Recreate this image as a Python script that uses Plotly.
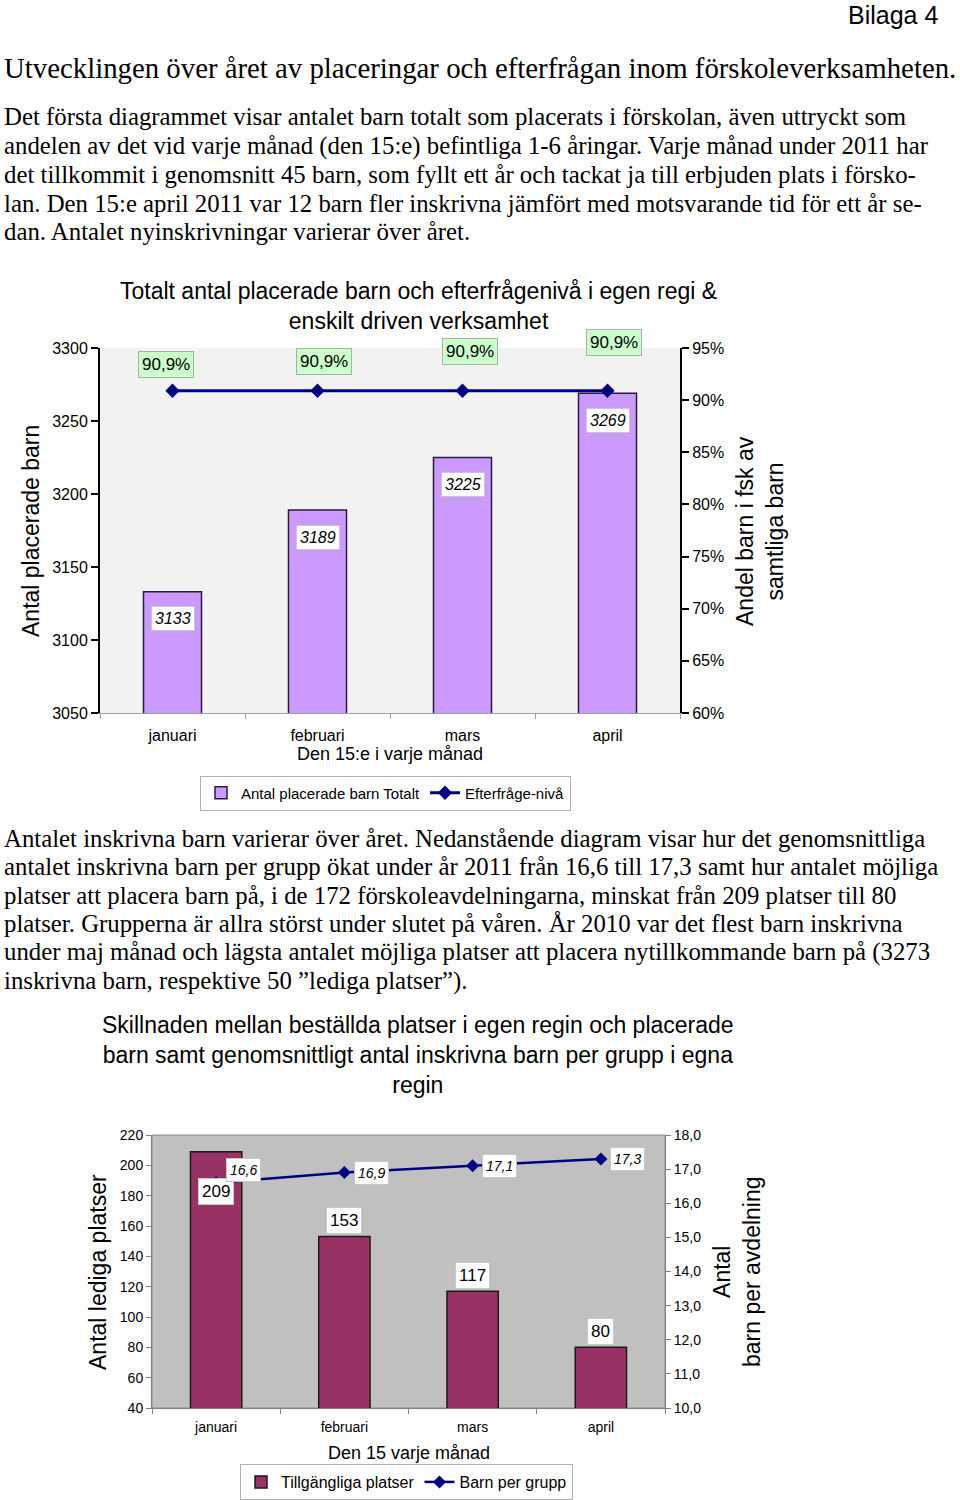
import plotly.graph_objects as go

W, H = 960, 1500

# ---------------- data ----------------
months = ["januari", "februari", "mars", "april"]
placerade = [3133, 3189, 3225, 3269]
efterfrage = [90.9, 90.9, 90.9, 90.9]

lediga = [209, 153, 117, 80]
barn_per_grupp = [16.6, 16.9, 17.1, 17.3]

heading = "Utvecklingen över året av placeringar och efterfrågan inom förskoleverksamheten."
para1 = [
    "Det första diagrammet visar antalet barn totalt som placerats i förskolan, även uttryckt som",
    "andelen av det vid varje månad (den 15:e) befintliga 1-6 åringar. Varje månad under 2011 har",
    "det tillkommit i genomsnitt 45 barn, som fyllt ett år och tackat ja till erbjuden plats i försko-",
    "lan. Den 15:e april 2011 var 12 barn fler inskrivna jämfört med motsvarande tid för ett år se-",
    "dan. Antalet nyinskrivningar varierar över året.",
]
para2 = [
    "Antalet inskrivna barn varierar över året. Nedanstående diagram visar hur det genomsnittliga",
    "antalet inskrivna barn per grupp ökat under år 2011 från 16,6 till 17,3 samt hur antalet möjliga",
    "platser att placera barn på, i de 172 förskoleavdelningarna, minskat från 209 platser till 80",
    "platser. Grupperna är allra störst under slutet på våren. År 2010 var det flest barn inskrivna",
    "under maj månad och lägsta antalet möjliga platser att placera nytillkommande barn på (3273",
    "inskrivna barn, respektive 50 ”lediga platser”).",
]

SERIF = "Liberation Serif, Times New Roman, serif"
SANS = "Liberation Sans, Arial, sans-serif"
NARROW = "Liberation Sans Narrow, Arial Narrow, Liberation Sans, sans-serif"


def py(p):
    return 1 - p / H


def px(p):
    return p / W


fig = go.Figure()

# ---------------- chart 1 ----------------
fig.add_trace(go.Bar(
    x=months, y=placerade, xaxis="x", yaxis="y",
    name="Antal placerade barn Totalt",
    marker=dict(color="#cc99ff", line=dict(color="#2a1a40", width=1.5)),
    legend="legend",
))
fig.add_trace(go.Scatter(
    x=months, y=efterfrage, xaxis="x", yaxis="y2",
    name="Efterfråge-nivå", mode="lines+markers",
    line=dict(color="#000080", width=3),
    marker=dict(symbol="diamond", size=11, color="#000080"),
    legend="legend",
))

# ---------------- chart 2 ----------------
fig.add_trace(go.Bar(
    x=months, y=lediga, xaxis="x2", yaxis="y3",
    name="Tillgängliga platser",
    marker=dict(color="#993366", line=dict(color="#1a1a1a", width=1.5)),
    legend="legend2",
))
fig.add_trace(go.Scatter(
    x=months, y=barn_per_grupp, xaxis="x2", yaxis="y4",
    name="Barn per grupp", mode="lines+markers",
    line=dict(color="#000080", width=2.5),
    marker=dict(symbol="diamond", size=10, color="#000080"),
    legend="legend2",
))

ann = []

# header texts
ann.append(dict(x=px(940), y=py(15), xref="paper", yref="paper", xanchor="right", yanchor="middle",
                text="Bilaga 4", showarrow=False, font=dict(family=SANS, size=25, color="black")))
ann.append(dict(x=px(2), y=py(68), xref="paper", yref="paper", xanchor="left", yanchor="middle",
                text=heading, showarrow=False, font=dict(family=SERIF, size=28.8, color="black")))
for i, line in enumerate(para1):
    ann.append(dict(x=px(2), y=py(117 + i * 28.7), xref="paper", yref="paper", xanchor="left",
                    yanchor="middle", text=line, showarrow=False,
                    font=dict(family=SERIF, size=24.8, color="black")))
for i, line in enumerate(para2):
    ann.append(dict(x=px(2), y=py(838 + i * 28.6), xref="paper", yref="paper", xanchor="left",
                    yanchor="middle", text=line, showarrow=False,
                    font=dict(family=SERIF, size=24.8, color="black")))

# chart 1 title and axis titles
ann.append(dict(x=px(418), y=py(306), xref="paper", yref="paper", xanchor="center", yanchor="middle",
                text="Totalt antal placerade barn och efterfrågenivå i egen regi &<br>enskilt driven verksamhet",
                showarrow=False, font=dict(family=SANS, size=23, color="black")))
ann.append(dict(x=px(31), y=py(531), xref="paper", yref="paper", xanchor="center", yanchor="middle",
                text="Antal placerade barn", textangle=-90, showarrow=False,
                font=dict(family=SANS, size=23, color="black")))
ann.append(dict(x=px(760), y=py(531), xref="paper", yref="paper", xanchor="center", yanchor="middle",
                text="Andel barn i fsk av<br>samtliga barn", textangle=-90, showarrow=False,
                font=dict(family=SANS, size=23, color="black")))
ann.append(dict(x=px(390), y=py(754), xref="paper", yref="paper", xanchor="center", yanchor="middle",
                text="Den 15:e i varje månad", showarrow=False,
                font=dict(family=SANS, size=18, color="black")))

# chart 1 bar labels
for m, v in zip(months, placerade):
    ann.append(dict(x=m, y=v, xref="x", yref="y", text=f"<i>{v}</i>", showarrow=False,
                    yanchor="middle", yshift=-27, bgcolor="white", bordercolor="#c8c8c8",
                    borderwidth=1, borderpad=3, font=dict(family=SANS, size=16, color="black")))
# chart 1 line labels
green_dx = [-7, 6, 7, 6]
green_dy = [26, 29, 39, 48]
for m, v, dx, dy in zip(months, efterfrage, green_dx, green_dy):
    ann.append(dict(x=m, y=v, xref="x", yref="y2", text=f"{v:.1f}".replace(".", ",") + "%",
                    showarrow=False, yanchor="middle", xshift=dx, yshift=dy,
                    bgcolor="#ccffcc", bordercolor="#a0b8a0", borderwidth=1, borderpad=3,
                    font=dict(family=SANS, size=17, color="black")))

# chart 2 title and axis titles
ann.append(dict(x=px(418), y=py(1055), xref="paper", yref="paper", xanchor="center", yanchor="middle",
                text="Skillnaden mellan beställda platser i egen regin och placerade<br>barn samt genomsnittligt antal inskrivna barn per grupp i egna<br>regin",
                showarrow=False, font=dict(family=SANS, size=23, color="black")))
ann.append(dict(x=px(98), y=py(1272), xref="paper", yref="paper", xanchor="center", yanchor="middle",
                text="Antal lediga platser", textangle=-90, showarrow=False,
                font=dict(family=SANS, size=23, color="black")))
ann.append(dict(x=px(737), y=py(1272), xref="paper", yref="paper", xanchor="center", yanchor="middle",
                text="Antal<br>barn per avdelning", textangle=-90, showarrow=False,
                font=dict(family=SANS, size=23, color="black")))
ann.append(dict(x=px(409), y=py(1453), xref="paper", yref="paper", xanchor="center", yanchor="middle",
                text="Den 15 varje månad", showarrow=False,
                font=dict(family=NARROW, size=18, color="black")))

# chart 2 bar labels
bar2_dy = [-40, 16, 16, 16]
for m, v, dy in zip(months, lediga, bar2_dy):
    ann.append(dict(x=m, y=v, xref="x2", yref="y3", text=f"{v}", showarrow=False,
                    yanchor="middle", yshift=dy, bgcolor="white", bordercolor="#c8c8c8",
                    borderwidth=1, borderpad=3, font=dict(family=NARROW, size=17, color="black")))
# chart 2 line labels
line2_dy = [13, 0, 0, 0]
for m, v, dy in zip(months, barn_per_grupp, line2_dy):
    ann.append(dict(x=m, y=v, xref="x2", yref="y4", text="<i>" + f"{v:.1f}".replace(".", ",") + "</i>",
                    showarrow=False, yanchor="middle", xshift=27, yshift=dy,
                    bgcolor="white", bordercolor="#c8c8c8", borderwidth=1, borderpad=3,
                    font=dict(family=SANS, size=14, color="black")))

shapes = [
    dict(type="rect", xref="x domain", yref="y domain", x0=0, x1=1, y0=0, y1=1,
         fillcolor="#f2f2f2", line=dict(width=0), layer="below"),
    dict(type="rect", xref="x2 domain", yref="y3 domain", x0=0, x1=1, y0=0, y1=1,
         fillcolor="#c0c0c0", line=dict(color="#8c8c8c", width=1), layer="below"),
]

fig.update_layout(
    width=W, height=H,
    margin=dict(l=0, r=0, t=0, b=0, autoexpand=False),
    paper_bgcolor="white", plot_bgcolor="rgba(0,0,0,0)",
    separators=", ",
    bargap=0.6,
    font=dict(family=SANS, color="black"),
    annotations=ann,
    shapes=shapes,
    xaxis=dict(domain=[px(100), px(680)], anchor="y", type="category",
               showline=True, linecolor="#a0a0a0", linewidth=1,
               ticks="outside", tickson="boundaries", ticklen=5, tickcolor="#a0a0a0",
               ticklabelstandoff=8,
               tickfont=dict(family=SANS, size=16, color="black"), showgrid=False),
    yaxis=dict(domain=[py(713), py(348)], anchor="x", range=[3050, 3300], dtick=50,
               showline=True, linecolor="black", linewidth=2, ticks="outside", ticklen=7,
               tickwidth=2, tickcolor="black", showgrid=False, zeroline=False,
               tickfont=dict(family=SANS, size=16, color="black")),
    yaxis2=dict(overlaying="y", side="right", anchor="x", range=[60, 95], dtick=5,
                ticksuffix="%", showline=True, linecolor="black", linewidth=2,
                ticks="outside", ticklen=7, tickwidth=2, tickcolor="black",
                showgrid=False, zeroline=False,
                tickfont=dict(family=SANS, size=16, color="black")),
    xaxis2=dict(domain=[px(152), px(665)], anchor="y3", type="category",
                showline=True, linecolor="#808080", linewidth=1,
                ticks="outside", tickson="boundaries", ticklen=5, tickcolor="#808080",
                ticklabelstandoff=6,
                tickfont=dict(family=NARROW, size=14, color="black"), showgrid=False),
    yaxis3=dict(domain=[py(1408), py(1135)], anchor="x2", range=[40, 220], dtick=20,
                showline=True, linecolor="#808080", linewidth=1, ticks="outside", ticklen=5,
                tickcolor="#808080", showgrid=False, zeroline=False,
                tickfont=dict(family=NARROW, size=14, color="black")),
    yaxis4=dict(overlaying="y3", side="right", anchor="x2", range=[10, 18], dtick=1,
                tickformat=".1f", showline=True, linecolor="#808080", linewidth=1,
                ticks="outside", ticklen=5, tickcolor="#808080", showgrid=False, zeroline=False,
                tickfont=dict(family=NARROW, size=14, color="black")),
    legend=dict(orientation="h", x=px(200), y=py(793), xanchor="left", yanchor="middle",
                bgcolor="white", bordercolor="#b0b0b0", borderwidth=1,
                font=dict(family=SANS, size=15, color="black"), itemwidth=30,
                tracegroupgap=0),
    legend2=dict(orientation="h", x=px(240), y=py(1500), xanchor="left", yanchor="bottom",
                 bgcolor="white", bordercolor="#b0b0b0", borderwidth=1,
                 font=dict(family=NARROW, size=16, color="black"), itemwidth=30),
)

fig.write_html("out.html", config={"displayModeBar": False},
               post_script="document.body.style.margin='0px';")
